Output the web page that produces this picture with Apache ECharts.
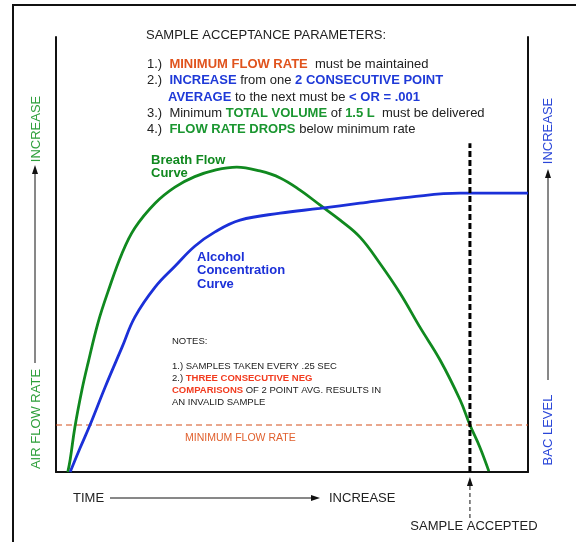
<!DOCTYPE html>
<html>
<head>
<meta charset="utf-8">
<script src="https://cdn.jsdelivr.net/npm/echarts@6/dist/echarts.min.js"></script>
<style>
html,body{margin:0;padding:0;background:#fff;}
#chart{width:576px;height:542px;}
</style>
</head>
<body>
<div id="chart"></div>
<script>
// ---- data (time and level in arbitrary 0-100 units) ----
var breathTime  = [2.5, 3.0, 4.0, 5.5, 6.8, 8.9, 11.0, 14.0, 16.7, 21.0, 25.2, 29.4, 33.7, 38.3, 43.2, 47.5, 51.7, 55.9, 60.2, 64.4, 68.6, 72.9, 77.1, 81.4, 85.6, 87.7, 89.8, 91.7];
var breathFlow  = [0.0, 2.8, 10.3, 18.9, 25.1, 34.3, 41.4, 50.3, 56.1, 61.8, 65.5, 67.9, 69.4, 70.1, 69.2, 67.6, 64.8, 61.4, 57.9, 54.0, 48.0, 41.1, 33.3, 25.7, 16.6, 10.8, 5.7, 0.2];
var alcoholTime = [3.0, 5.1, 7.2, 10.4, 14.0, 16.7, 21.0, 25.2, 29.4, 33.7, 39.0, 47.5, 55.9, 64.4, 75.0, 85.6, 100];
var alcoholBac  = [0.0, 5.5, 10.8, 19.5, 28.7, 35.6, 42.5, 47.3, 51.9, 55.2, 57.9, 59.5, 60.6, 61.8, 63.2, 64.1, 64.1];
var minFlowRate = 10.8;
var sampleAcceptedTime = 87.7;
var sampleMarkerTop = 75.6;

var headerTitle = 'SAMPLE ACCEPTANCE PARAMETERS:';
var notesLines = [
  'NOTES:',
  '',
  '1.) SAMPLES TAKEN EVERY .25 SEC',
  '2.) {r|THREE CONSECUTIVE NEG}',
  '{r|COMPARISONS} OF 2 POINT AVG. RESULTS IN',
  'AN INVALID SAMPLE'
];

function zip(a, b) { return a.map(function (v, i) { return [v, b[i]]; }); }

var FONT = '"Liberation Sans", Arial, Helvetica, sans-serif';
var BLACK = '#222';
var ORANGE = '#e0531d';
var BLUE = '#1f3ad8';
var GREEN = '#1a9630';
var RED = '#f23b1f';

var chart = echarts.init(document.getElementById('chart'));

function txt(x, y, text, opt) {
  opt = opt || {};
  return {
    type: 'text', x: x, y: y, rotation: opt.rotation || 0, z: 10,
    style: {
      text: text, fill: opt.fill || BLACK, fontFamily: FONT,
      fontSize: opt.size || 13, fontWeight: opt.weight || 'normal',
      align: opt.align || 'left', verticalAlign: 'middle',
      lineHeight: opt.lineHeight, rich: opt.rich
    }
  };
}

var richHeader = {
  o: { fill: ORANGE, fontWeight: 'bold', fontSize: 13, fontFamily: FONT },
  b: { fill: BLUE, fontWeight: 'bold', fontSize: 13, fontFamily: FONT },
  g: { fill: GREEN, fontWeight: 'bold', fontSize: 13, fontFamily: FONT }
};

var option = {
  animation: false,
  backgroundColor: '#fff',
  grid: { left: 56, right: 48, top: 37, bottom: 70 },
  xAxis: {
    type: 'value', min: 0, max: 100,
    axisLine: { show: true, lineStyle: { color: '#111', width: 2 } },
    axisTick: { show: false }, axisLabel: { show: false }, splitLine: { show: false }
  },
  yAxis: [
    { type: 'value', min: 0, max: 100, position: 'left',
      axisLine: { show: true, lineStyle: { color: '#111', width: 2 } },
      axisTick: { show: false }, axisLabel: { show: false }, splitLine: { show: false } },
    { type: 'value', min: 0, max: 100, position: 'right',
      axisLine: { show: true, lineStyle: { color: '#111', width: 2 } },
      axisTick: { show: false }, axisLabel: { show: false }, splitLine: { show: false } }
  ],
  series: [
    { type: 'line', name: 'Minimum Flow Rate', data: [[0, minFlowRate], [100, minFlowRate]],
      showSymbol: false, lineStyle: { color: '#d4501c', width: 1.2, type: [6, 4] }, z: 1 },
    { type: 'line', name: 'Breath Flow Curve', data: zip(breathTime, breathFlow),
      smooth: 0.4, showSymbol: false, lineStyle: { color: '#10891f', width: 2.8 }, z: 3 },
    { type: 'line', name: 'Alcohol Concentration Curve', data: zip(alcoholTime, alcoholBac),
      smooth: 0.4, showSymbol: false, lineStyle: { color: '#1b30d8', width: 2.8 }, z: 3 },
    { type: 'line', name: 'Sample Accepted', data: [[sampleAcceptedTime, 0], [sampleAcceptedTime, sampleMarkerTop]],
      showSymbol: false, lineStyle: { color: '#000', width: 3, type: [6, 3] }, z: 4 }
  ]
};
chart.setOption(option);

var ax = chart.convertToPixel({ xAxisIndex: 0 }, sampleAcceptedTime);

var graphics = [
  // outer frame
  { type: 'rect', shape: { x: 13, y: 5, width: 620, height: 620 },
    style: { fill: 'none', stroke: '#111', lineWidth: 2 }, z: 0 },
  // header
  txt(146, 35, headerTitle),
  txt(147, 64, '1.)  {o|MINIMUM FLOW RATE}  must be maintained', { rich: richHeader }),
  txt(147, 80, '2.)  {b|INCREASE} from one {b|2 CONSECUTIVE POINT}', { rich: richHeader }),
  txt(168, 97, '{b|AVERAGE} to the next must be {b|< OR = .001}', { rich: richHeader }),
  txt(147, 113, '3.)  Minimum {g|TOTAL VOLUME} of {g|1.5 L}  must be delivered', { rich: richHeader }),
  txt(147, 129, '4.)  {g|FLOW RATE DROPS} below minimum rate', { rich: richHeader }),
  // curve labels
  txt(151, 160, 'Breath Flow', { fill: '#10891f', weight: 'bold' }),
  txt(151, 173, 'Curve', { fill: '#10891f', weight: 'bold' }),
  txt(197, 257, 'Alcohol', { fill: '#1b30d8', weight: 'bold' }),
  txt(197, 270.5, 'Concentration', { fill: '#1b30d8', weight: 'bold' }),
  txt(197, 284, 'Curve', { fill: '#1b30d8', weight: 'bold' }),
  // min flow label
  txt(185, 438, 'MINIMUM FLOW RATE', { fill: '#e0602e', size: 10.5 }),
  // left axis title
  txt(36, 419, 'AIR FLOW RATE', { fill: '#2fa03c', rotation: Math.PI / 2, align: 'center' }),
  txt(36, 129, 'INCREASE', { fill: '#2fa03c', rotation: Math.PI / 2, align: 'center' }),
  { type: 'line', shape: { x1: 35, y1: 363, x2: 35, y2: 172 }, style: { stroke: '#111', lineWidth: 1 } },
  { type: 'polygon', shape: { points: [[35, 165], [32, 174], [38, 174]] }, style: { fill: '#111' } },
  // right axis title
  txt(548, 430, 'BAC LEVEL', { fill: '#2a46d8', rotation: Math.PI / 2, align: 'center' }),
  txt(548, 131, 'INCREASE', { fill: '#2a46d8', rotation: Math.PI / 2, align: 'center' }),
  { type: 'line', shape: { x1: 548, y1: 380, x2: 548, y2: 176 }, style: { stroke: '#111', lineWidth: 1 } },
  { type: 'polygon', shape: { points: [[548, 169], [545, 178], [551, 178]] }, style: { fill: '#111' } },
  // time axis title
  txt(73, 498, 'TIME'),
  { type: 'line', shape: { x1: 110, y1: 498, x2: 314, y2: 498 }, style: { stroke: '#111', lineWidth: 1 } },
  { type: 'polygon', shape: { points: [[320, 498], [311, 495], [311, 501]] }, style: { fill: '#111' } },
  txt(329, 498, 'INCREASE'),
  // sample accepted
  { type: 'line', shape: { x1: ax, y1: 518, x2: ax, y2: 484 }, style: { stroke: '#111', lineWidth: 1, lineDash: [4, 3] } },
  { type: 'polygon', shape: { points: [[ax, 477], [ax - 3, 486], [ax + 3, 486]] }, style: { fill: '#111' } },
  txt(ax + 4, 526, 'SAMPLE ACCEPTED', { align: 'center' }),
  // notes
  txt(172, 372, notesLines.join('\n'), { size: 9.5, lineHeight: 12.2,
    rich: { r: { fill: RED, fontWeight: 'bold', fontSize: 9.5, fontFamily: FONT, lineHeight: 12.2 } } })
];
chart.setOption({ graphic: graphics });
</script>
</body>
</html>
